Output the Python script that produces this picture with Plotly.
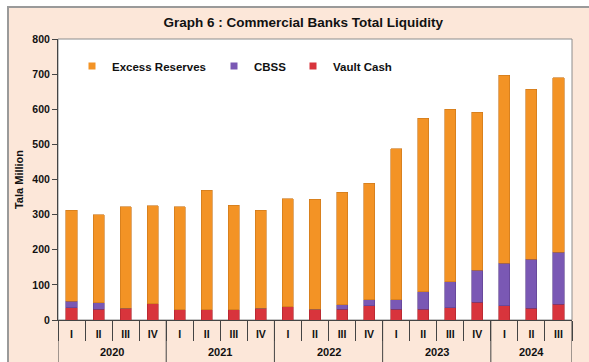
import plotly.graph_objects as go

years = ["2020"] * 4 + ["2021"] * 4 + ["2022"] * 4 + ["2023"] * 4 + ["2024"] * 3
quarters = ["I", "II", "III", "IV"] * 4 + ["I", "II", "III"]

total = [313, 299, 323, 325, 323, 370, 327, 313, 345, 344, 364, 389,
         487, 575, 600, 591, 697, 657, 690]
vault_cash = [35, 31, 33, 46, 29, 29, 29, 33, 38, 31, 30, 40,
              31, 30, 35, 51, 40, 33, 45]
cbss_top = [54, 49, 33, 46, 29, 29, 29, 33, 38, 31, 43, 57,
            57, 81, 109, 142, 161, 173, 193]

cbss = [c - v for c, v in zip(cbss_top, vault_cash)]
excess = [t - c for t, c in zip(total, cbss_top)]

FONT = "Liberation Sans"
idx = list(range(len(quarters)))

COL_VC, COL_CB, COL_EX = "#D8343C", "#7A58B4", "#F39325"

fig = go.Figure()
fig.add_trace(go.Bar(x=idx, y=vault_cash, name="Vault Cash", showlegend=False,
                     marker=dict(color=COL_VC, line=dict(color="#A8242B", width=0.6))))
fig.add_trace(go.Bar(x=idx, y=cbss, name="CBSS", showlegend=False,
                     marker=dict(color=COL_CB, line=dict(color="#5B3F8C", width=0.6))))
fig.add_trace(go.Bar(x=idx, y=excess, name="Excess Reserves", showlegend=False,
                     marker=dict(color=COL_EX, line=dict(color="#C8741A", width=0.6))))

for nm, col, lg in [("Excess Reserves", COL_EX, "legend"),
                    ("CBSS", COL_CB, "legend2"),
                    ("Vault Cash", COL_VC, "legend3")]:
    fig.add_trace(go.Scatter(x=[None], y=[None], mode="markers", name=nm,
                             marker=dict(symbol="square", size=7, color=col),
                             showlegend=True, legend=lg))

W, H = 589, 362
L, R, T, B = 58, 17, 39, 42
pw, ph = W - L - R, H - T - B


def px2x(px):
    return (px - L) / pw


def py2y(py):
    return (H - B - py) / ph


groups = []
for i, yv in enumerate(years):
    if not groups or groups[-1][0] != yv:
        groups.append([yv, i, i])
    else:
        groups[-1][2] = i

shapes = [
    dict(type="rect", xref="paper", yref="paper", layer="below",
         x0=px2x(8), x1=px2x(600), y0=py2y(380), y1=py2y(7),
         fillcolor="#FCE7D9", line=dict(color="#9A9A9A", width=2)),
    dict(type="rect", xref="paper", yref="paper", layer="below",
         x0=0, x1=1, y0=0, y1=1,
         fillcolor="white", line=dict(color="#8C8C8C", width=1)),
]
annotations = []
bounds = sorted({g[1] - 0.5 for g in groups} | {g[2] + 0.5 for g in groups})
for b in bounds:
    shapes.append(dict(type="line", xref="x", yref="paper", x0=b, x1=b,
                       y0=0, y1=py2y(365), line=dict(color="#444", width=1)))
for yv, a, b in groups:
    annotations.append(dict(text="<b>%s</b>" % yv, x=(a + b) / 2, xref="x",
                            y=py2y(352), yref="paper", showarrow=False,
                            xanchor="center", yanchor="middle",
                            font=dict(family=FONT, size=11, color="#111111")))

legfont = dict(family=FONT, size=11.5, color="#111111", weight="bold")
legcommon = dict(orientation="h", bgcolor="rgba(0,0,0,0)", font=legfont,
                 xanchor="left", yanchor="middle", itemwidth=30)

fig.update_layout(
    width=W, height=H,
    margin=dict(l=L, r=R, t=T, b=B),
    barmode="stack",
    bargap=0.59,
    paper_bgcolor="white",
    plot_bgcolor="white",
    font=dict(family=FONT, size=11, color="#111111"),
    title=dict(text="<b>Graph 6 : Commercial Banks Total Liquidity</b>",
               x=0.515, xanchor="center", y=1 - 22 / H, yanchor="middle",
               font=dict(family=FONT, size=13.5, color="#111111")),
    legend=dict(x=px2x(72), y=py2y(66), **legcommon),
    legend2=dict(x=px2x(214), y=py2y(66), **legcommon),
    legend3=dict(x=px2x(293), y=py2y(66), **legcommon),
    xaxis=dict(range=[-0.5, len(idx) - 0.5], tickmode="array", tickvals=idx,
               ticktext=quarters, ticks="", ticklabelstandoff=4,
               showline=True, linecolor="#444", linewidth=1, showgrid=False,
               zeroline=False,
               minor=dict(tickmode="linear", tick0=-0.5, dtick=1, ticks="outside",
                          ticklen=20, tickcolor="#444", showgrid=False),
               tickfont=dict(family=FONT, size=10.5, color="#111111", weight="bold")),
    yaxis=dict(range=[0, 800], dtick=100, ticks="outside", ticklen=5,
               tickcolor="#444", showline=True, linecolor="#444", linewidth=1,
               showgrid=False, zeroline=False,
               tickfont=dict(family=FONT, size=10.5, color="#111111", weight="bold"),
               title=dict(text="<b>Tala Million</b>", standoff=6,
                          font=dict(family=FONT, size=11, color="#111111"))),
    shapes=shapes,
    annotations=annotations,
)

fig.write_html("out.html")
